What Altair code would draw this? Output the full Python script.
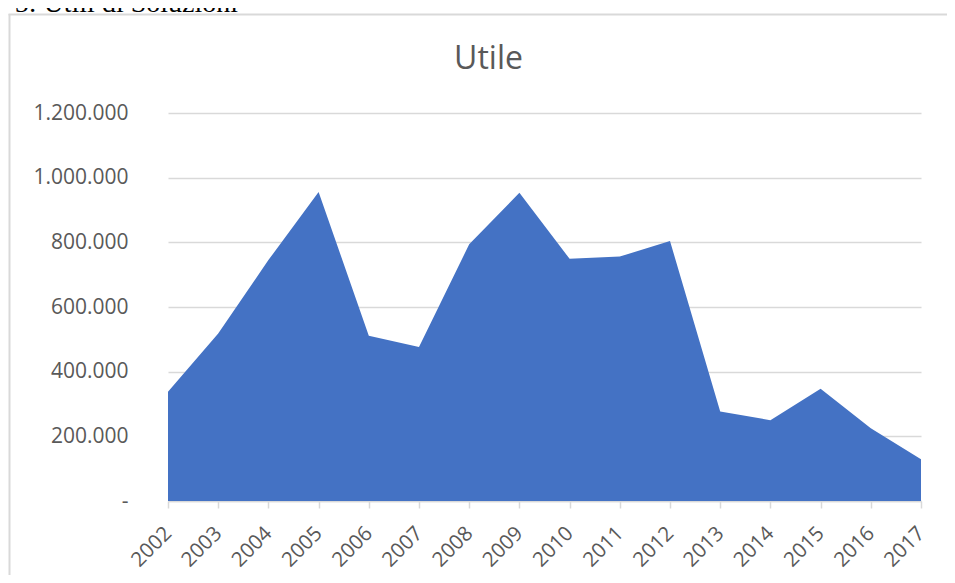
import altair as alt
import pandas as pd

# ---- data ----
anni = [2002, 2003, 2004, 2005, 2006, 2007, 2008, 2009,
        2010, 2011, 2012, 2013, 2014, 2015, 2016, 2017]
utile = [338000, 518000, 745000, 956000, 511000, 476000, 794000, 953000,
         749000, 756000, 804000, 277000, 250000, 347000, 225000, 129000]
y_ticks = [0, 200000, 400000, 600000, 800000, 1000000, 1200000]
titolo = ["Utile"]
didascalia = ["5: Utili di Soluzioni"]

df = pd.DataFrame({"anno": anni, "utile": utile})

W, H = 753, 388
GRAY_TXT = "#595959"
GRID = "#d9d9d9"
FONT = "Open Sans"

x_enc = alt.X(
    "anno:Q",
    scale=alt.Scale(domain=[anni[0], anni[-1]], nice=False, zero=False),
    axis=alt.Axis(
        values=anni, format="d", title=None,
        labelAngle=-45, labelAlign="right", labelBaseline="middle",
        labelFlush=False, labelOverlap=False,
        labelFont=FONT, labelFontSize=20.5, labelColor=GRAY_TXT,
        labelPadding=22,
        domainColor=GRID, domainWidth=1.5,
        tickColor=GRID, tickWidth=1.5, tickSize=7,
        grid=False,
    ),
)

y_enc = alt.Y(
    "utile:Q",
    scale=alt.Scale(domain=[0, 1200000], nice=False),
    axis=alt.Axis(
        values=y_ticks, title=None,
        labelExpr="datum.value == 0 ? '-\u00a0\u00a0' : replace(format(datum.value, ','), regexp(',', 'g'), '.')",
        labelFont=FONT, labelFontSize=21, labelColor=GRAY_TXT,
        labelPadding=40,
        domain=False, ticks=False,
        grid=True, gridColor=GRID, gridWidth=1.5,
    ),
)

area = alt.Chart(df).mark_area(color="#4472C4", opacity=1).encode(x=x_enc, y=y_enc)

title_df = pd.DataFrame({"t": titolo})
title_mark = alt.Chart(title_df).mark_text(
    font=FONT, fontSize=32, color=GRAY_TXT, align="center", baseline="alphabetic"
).encode(text="t:N", x=alt.value(320.5), y=alt.value(-44))

cap_df = pd.DataFrame({"t": didascalia})
cap_mark = alt.Chart(cap_df).mark_text(
    font="Liberation Serif", fontSize=28, color="#000000", align="right", baseline="alphabetic"
).encode(text="t:N", x=alt.value(70), y=alt.value(-101))

frame_left = alt.Chart(title_df).mark_rule(color=GRID, strokeWidth=2).encode(
    x=alt.value(-158.5), y=alt.value(-99), y2=alt.value(480)
)
frame_top = alt.Chart(title_df).mark_rule(color=GRID, strokeWidth=2).encode(
    x=alt.value(-159.5), x2=alt.value(800), y=alt.value(-98.5)
)

chart = alt.layer(area, frame_left, frame_top, title_mark, cap_mark).properties(
    width=W, height=H,
    autosize=alt.AutoSizeParams(type="none"),
    padding={"left": 160, "top": 105, "right": 26, "bottom": 74},
    background="white",
).configure_view(stroke=None)

chart.save("out.html", embed_options={"renderer": "svg", "actions": False})
